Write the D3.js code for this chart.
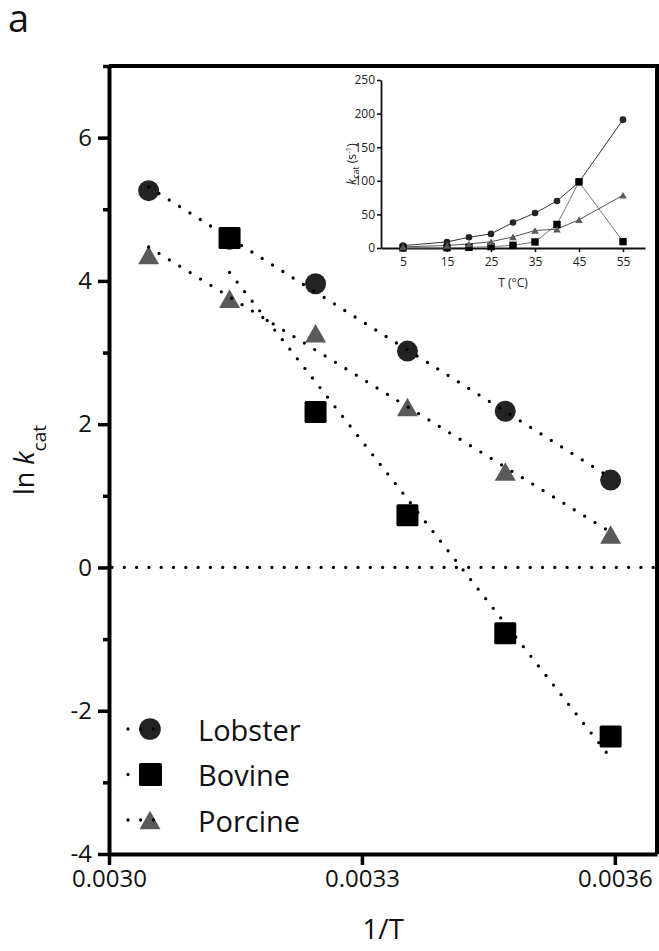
<!DOCTYPE html>
<html>
<head>
<meta charset="utf-8">
<script src="https://cdn.jsdelivr.net/npm/d3@7"></script>
<style>
body { margin: 0; background: #fff; }
svg { display: block; }
svg text { font-family: "Open Sans", sans-serif; fill: #111; }
</style>
</head>
<body>
<script>
// main panel: ln kcat against 1/T (points at 55,45,35,25,15,5 degC)
var invT = [0.003047, 0.003143, 0.003245, 0.003354, 0.003470, 0.003595];
var lnLobster = [5.26, 4.58, 3.96, 3.02, 2.18, 1.22];
var lnBovine = [null, 4.60, 2.17, 0.73, -0.92, -2.36];
var lnPorcine = [4.36, 3.75, 3.27, 2.24, 1.34, 0.46];
var xTicks = [0.0030, 0.0033, 0.0036];
var yTicks = [-4, -2, 0, 2, 4, 6];
var yMinor = [-3, -1, 1, 3, 5, 7];
var seriesNames = ["Lobster", "Bovine", "Porcine"];

// inset: kcat against T
var temps = [5, 15, 20, 25, 30, 35, 40, 45, 55];
var kLobster = [3.5, 9, 16, 21, 38, 52, 70, 98, 191];
var kBovine = [0.1, 0.4, 1, 2.1, 4, 9, 35, 98.5, 9.5];
var kPorcine = [1.6, 3.8, 6, 9.4, 16.5, 26, 28, 42, 78.5];
var insetXTicks = [5, 15, 25, 35, 45, 55];
var insetYTicks = [0, 50, 100, 150, 200, 250];

var width = 659, height = 951;
var colCircle = "#232323", colSquare = "#000", colTri = "#5a5a5a";

var svg = d3.select("body").append("svg")
    .attr("width", width)
    .attr("height", height);

var x = d3.scaleLinear().domain([0.0030, 0.00365]).range([109, 657]);
var y = d3.scaleLinear().domain([-4, 7]).range([854, 66]);

function pts(vals) {
    return invT.map((t, i) => ({x: t, y: vals[i]})).filter(d => d.y !== null);
}
function fit(p) {
    var mx = d3.mean(p, d => d.x), my = d3.mean(p, d => d.y);
    var sxy = d3.sum(p, d => (d.x - mx) * (d.y - my));
    var sxx = d3.sum(p, d => (d.x - mx) * (d.x - mx));
    var b = sxy / sxx, a = my - b * mx;
    var x0 = d3.min(p, d => d.x), x1 = d3.max(p, d => d.x);
    return [[x0, a + b * x0], [x1, a + b * x1]];
}
var triPath = "M0,-9.25L10.5,9.25L-10.5,9.25Z";

// axes
var xAxis = svg.append("g")
    .attr("transform", "translate(0," + y(-4) + ")")
    .call(d3.axisBottom(x).tickValues(xTicks).tickFormat(d3.format(".4f"))
        .tickSize(11).tickSizeOuter(0).tickPadding(5));
xAxis.select(".domain").attr("stroke", "#000").attr("stroke-width", 4);
xAxis.selectAll(".tick line").attr("stroke", "#000").attr("stroke-width", 3.5);
xAxis.selectAll("text").attr("font-size", "24px");

var yAxis = svg.append("g")
    .attr("transform", "translate(" + x(0.0030) + ",0)")
    .call(d3.axisLeft(y).tickValues(yTicks).tickSize(11).tickSizeOuter(0).tickPadding(6)
        .tickFormat(d => String(d)));
yAxis.select(".domain").attr("stroke", "#000").attr("stroke-width", 4);
yAxis.selectAll(".tick line").attr("stroke", "#000").attr("stroke-width", 3.5);
yAxis.selectAll("text").attr("font-size", "24px");

var yMinorAxis = svg.append("g")
    .attr("transform", "translate(" + x(0.0030) + ",0)")
    .call(d3.axisLeft(y).tickValues(yMinor).tickSize(6).tickSizeOuter(0).tickFormat(""));
yMinorAxis.select(".domain").remove();
yMinorAxis.selectAll(".tick line").attr("stroke", "#000").attr("stroke-width", 3.5);

// frame top and right
svg.append("line")
    .attr("x1", x(0.0030)).attr("x2", x(0.00365))
    .attr("y1", y(7)).attr("y2", y(7))
    .attr("stroke", "#000").attr("stroke-width", 4);
svg.append("line")
    .attr("x1", x(0.00365)).attr("x2", x(0.00365))
    .attr("y1", y(7) - 2).attr("y2", y(-4))
    .attr("stroke", "#000").attr("stroke-width", 4);

// zero line
svg.append("line")
    .attr("x1", x(0.0030) + 3).attr("x2", x(0.00365))
    .attr("y1", y(0)).attr("y2", y(0))
    .attr("stroke", "#000").attr("stroke-width", 3.3)
    .attr("stroke-linecap", "round").attr("stroke-dasharray", "0 12.3");

// markers
var g = svg.append("g");
g.selectAll("circle.lob").data(pts(lnLobster)).enter().append("circle")
    .attr("cx", d => x(d.x)).attr("cy", d => y(d.y)).attr("r", 10.5)
    .attr("fill", colCircle);
g.selectAll("rect.bov").data(pts(lnBovine)).enter().append("rect")
    .attr("x", d => x(d.x) - 11).attr("y", d => y(d.y) - 11)
    .attr("width", 22).attr("height", 22).attr("rx", 1.5)
    .attr("fill", colSquare);
g.selectAll("path.por").data(pts(lnPorcine)).enter().append("path")
    .attr("d", triPath)
    .attr("transform", d => "translate(" + x(d.x) + "," + y(d.y) + ")")
    .attr("fill", colTri);

// regression lines (dotted, on top of markers)
[lnLobster, lnBovine, lnPorcine].forEach(vals => {
    var f = fit(pts(vals));
    svg.append("line")
        .attr("x1", x(f[0][0])).attr("y1", y(f[0][1]))
        .attr("x2", x(f[1][0])).attr("y2", y(f[1][1]))
        .attr("stroke", "#000").attr("stroke-width", 3.3)
        .attr("stroke-linecap", "round").attr("stroke-dasharray", "0 12.2");
});

// legend
var legY = [729, 774.5, 820];
var leg = svg.append("g");
seriesNames.forEach((name, i) => {
    var cy = legY[i];
    if (i == 0) leg.append("circle").attr("cx", 150).attr("cy", cy).attr("r", 10.8).attr("fill", colCircle);
    if (i == 1) leg.append("rect").attr("x", 139).attr("y", cy - 11.5).attr("width", 23).attr("height", 23)
        .attr("rx", 1.5).attr("fill", colSquare);
    if (i == 2) leg.append("path").attr("d", triPath).attr("transform", "translate(150," + cy + ")").attr("fill", colTri);
    leg.append("line")
        .attr("x1", 128).attr("x2", 166).attr("y1", cy).attr("y2", cy)
        .attr("stroke", "#000").attr("stroke-width", 3.3)
        .attr("stroke-linecap", "round").attr("stroke-dasharray", "0 12.67");
    leg.append("text").attr("x", 198).attr("y", cy + 11.5)
        .attr("font-size", "29px").text(name);
});

// labels
svg.append("text").attr("x", 8).attr("y", 32).attr("font-size", "38px").text("a");
svg.append("text").attr("x", 383).attr("y", 939)
    .attr("text-anchor", "middle").attr("font-size", "28px").text("1/T");
var yl = svg.append("text")
    .attr("transform", "translate(34,460) rotate(-90)")
    .attr("text-anchor", "middle").attr("font-size", "27px");
yl.append("tspan").text("ln ");
yl.append("tspan").attr("font-style", "italic").text("k");
yl.append("tspan").attr("font-size", "19px").attr("dy", 12).text("cat");

// ---------- inset ----------
var xi = d3.scaleLinear().domain([0, 60]).range([381, 645]);
var yi = d3.scaleLinear().domain([0, 250]).range([248, 80]);

var ixAxis = svg.append("g")
    .attr("transform", "translate(0," + yi(0) + ")")
    .call(d3.axisBottom(xi).tickValues(insetXTicks).tickSize(4).tickSizeOuter(0).tickPadding(5));
var iyAxis = svg.append("g")
    .attr("transform", "translate(" + xi(0) + ",0)")
    .call(d3.axisLeft(yi).tickValues(insetYTicks).tickSize(4).tickSizeOuter(0).tickPadding(2));
[ixAxis, iyAxis].forEach(a => {
    a.select(".domain").attr("stroke", "#111").attr("stroke-width", 1.8);
    a.selectAll(".tick line").attr("stroke", "#111").attr("stroke-width", 1.6);
    a.selectAll("text").attr("font-size", "12px").style("fill", "#222");
});

var line = d3.line().x((d, i) => xi(temps[i])).y(d => yi(d));
[[kLobster, "#333"], [kBovine, "#777"], [kPorcine, "#555"]].forEach(s => {
    svg.append("path").attr("d", line(s[0]))
        .attr("fill", "none").attr("stroke", s[1]).attr("stroke-width", 1);
});
svg.selectAll("circle.il").data(kLobster).enter().append("circle")
    .attr("cx", (d, i) => xi(temps[i])).attr("cy", d => yi(d)).attr("r", 3.3)
    .attr("fill", colCircle);
svg.selectAll("rect.ib").data(kBovine).enter().append("rect")
    .attr("x", (d, i) => xi(temps[i]) - 3.7).attr("y", d => yi(d) - 3.7)
    .attr("width", 7.4).attr("height", 7.4).attr("fill", colSquare);
svg.selectAll("path.ip").data(kPorcine).enter().append("path")
    .attr("d", "M0,-3.3L3.8,3.3L-3.8,3.3Z")
    .attr("transform", (d, i) => "translate(" + xi(temps[i]) + "," + yi(d) + ")")
    .attr("fill", colTri);

svg.append("text").attr("x", 513).attr("y", 287)
    .attr("text-anchor", "middle").attr("font-size", "12px").style("fill", "#222").text("T (°C)");
var iyl = svg.append("text")
    .attr("transform", "translate(356,164) rotate(-90)")
    .attr("text-anchor", "middle").attr("font-size", "12px").style("fill", "#222");
iyl.append("tspan").attr("font-style", "italic").text("k");
iyl.append("tspan").attr("font-size", "9px").attr("dy", 3).text("cat");
iyl.append("tspan").attr("dy", -3).text(" (s");
iyl.append("tspan").attr("font-size", "8px").attr("dy", -5).text("-1");
iyl.append("tspan").attr("dy", 5).text(")");
</script>
</body>
</html>
